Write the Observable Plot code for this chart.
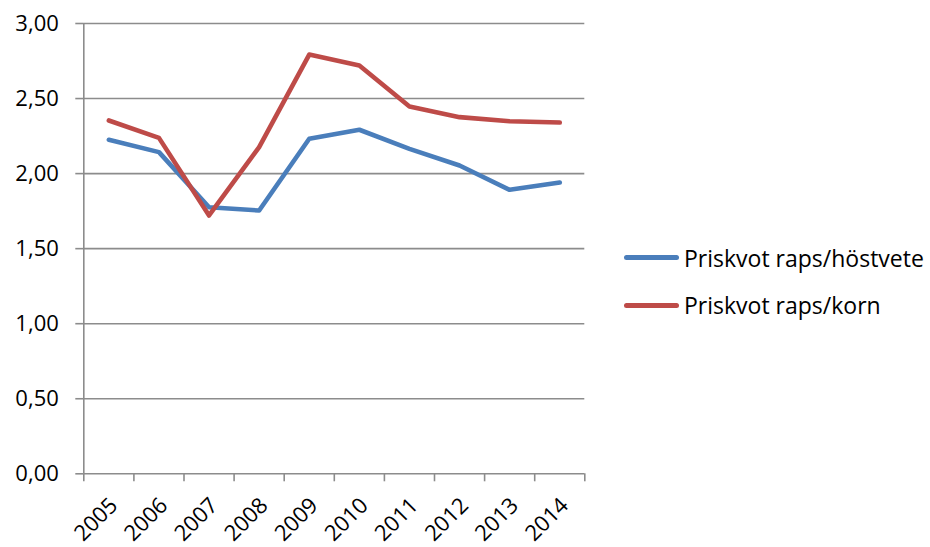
<!DOCTYPE html>
<html>
<head>
<meta charset="utf-8">
<script src="https://cdn.jsdelivr.net/npm/d3@7"></script>
<script src="https://cdn.jsdelivr.net/npm/@observablehq/plot@0.6"></script>
<style>
  html, body { margin: 0; padding: 0; background: #fff; }
  #chart { position: relative; width: 930px; height: 547px; font-family: "Open Sans", sans-serif; }
  #legend { position: absolute; left: 624px; top: 0; }
  .item { position: absolute; left: 0; display: flex; align-items: center; white-space: nowrap; font-size: 23px; color: #000; }
  .swatch { width: 55px; height: 5px; border-radius: 3px; margin-right: 5px; }
</style>
</head>
<body>
<div id="chart"></div>
<script>
// Price ratios for rapeseed against winter wheat and barley, 2005–2014
const years = [2005, 2006, 2007, 2008, 2009, 2010, 2011, 2012, 2013, 2014];
const rapsHostvete = [2.225, 2.143, 1.776, 1.754, 2.232, 2.292, 2.165, 2.054, 1.892, 1.941];
const rapsKorn = [2.354, 2.238, 1.721, 2.176, 2.793, 2.72, 2.447, 2.376, 2.349, 2.34];
const seriesNames = ["Priskvot raps/höstvete", "Priskvot raps/korn"];
const seriesColors = ["#4A7EBB", "#BE4B48"];
const yTicks = [0, 0.5, 1, 1.5, 2, 2.5, 3];

const rows = [
  ...years.map((year, i) => ({year, value: rapsHostvete[i], series: seriesNames[0]})),
  ...years.map((year, i) => ({year, value: rapsKorn[i], series: seriesNames[1]}))
];

// category boundaries: each year occupies one unit-wide slot
const bounds = [...years.map((y) => y - 0.5), years[years.length - 1] + 0.5];
const gridColor = "#8C8C8C";
const fmt = (v) => d3.format(".2f")(v).replace(".", ",");

const chart = Plot.plot({
  width: 930,
  height: 547,
  marginLeft: 83.3,
  marginRight: 345.7,
  marginTop: 23,
  marginBottom: 73.7,
  style: {fontFamily: "'Open Sans', sans-serif", fontSize: "22px", color: "#000", background: "#fff"},
  x: {type: "linear", domain: [bounds[0], bounds[bounds.length - 1]], label: null},
  y: {domain: [0, 3], label: null},
  color: {domain: seriesNames, range: seriesColors},
  marks: [
    Plot.ruleY(yTicks, {stroke: gridColor, strokeWidth: 1.6}),
    Plot.ruleX([bounds[0]], {stroke: gridColor, strokeWidth: 1.6}),
    Plot.axisY({ticks: yTicks, label: null, tickSize: 8, tickPadding: 17, tickFormat: fmt, stroke: gridColor, strokeWidth: 1.6, strokeOpacity: 1, fill: "#000"}),
    Plot.axisX({ticks: bounds, label: null, tickSize: 8, tickFormat: () => "", stroke: gridColor, strokeWidth: 1.6, strokeOpacity: 1}),
    Plot.axisX({ticks: years, label: null, tickSize: 0, tickPadding: 14, tickRotate: -45, tickFormat: (d) => String(d), fill: "#000", dx: 5, dy: 14}),
    Plot.line(rows, {x: "year", y: "value", stroke: "series", z: "series", strokeWidth: 4.6, strokeLinecap: "round", strokeLinejoin: "round"})
  ]
});

const container = document.getElementById("chart");
container.appendChild(chart);

// legend on the right of the plot area
const legend = document.createElement("div");
legend.id = "legend";
const legendTops = [257.7, 305];
seriesNames.forEach((name, i) => {
  const item = document.createElement("div");
  item.className = "item";
  item.style.top = (legendTops[i] - 16) + "px";
  item.style.height = "32px";
  const sw = document.createElement("span");
  sw.className = "swatch";
  sw.style.background = seriesColors[i];
  const label = document.createElement("span");
  label.textContent = name;
  item.appendChild(sw);
  item.appendChild(label);
  legend.appendChild(item);
});
container.appendChild(legend);
</script>
</body>
</html>
